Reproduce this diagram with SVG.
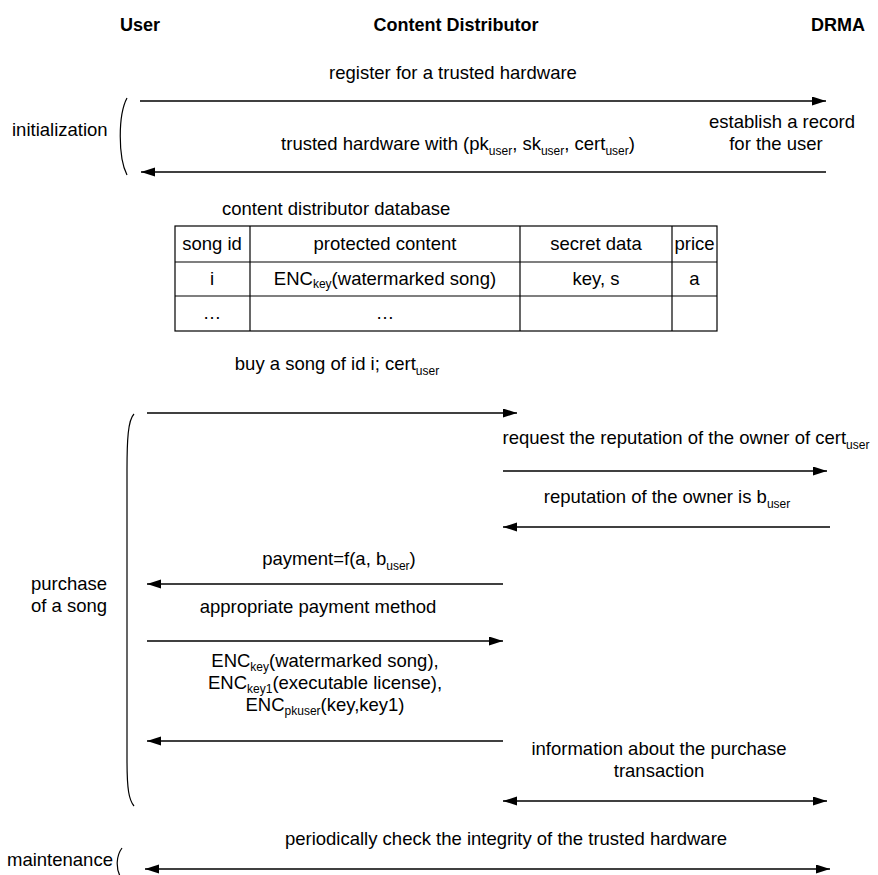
<svg xmlns="http://www.w3.org/2000/svg" width="878" height="875" viewBox="0 0 878 875">
  <style>
    text { font-family: "Liberation Sans", Arial, sans-serif; font-size: 18.5px; fill: #000; }
    .head { font-weight: bold; font-size: 18px; text-anchor: middle; }
    .mid { text-anchor: middle; }
    .sub { font-size: 12px; }
    .msg { stroke: #000; stroke-width: 1.4; fill: none; }
    .brace { stroke: #000; stroke-width: 1.2; fill: none; }
    .grid { stroke: #000; stroke-width: 1.2; fill: none; }
  </style>
  <defs>
    <marker id="head" markerUnits="userSpaceOnUse" markerWidth="15" markerHeight="10" refX="14" refY="4.5" orient="auto-start-reverse">
      <path d="M0,0 L14,4.5 L0,9 z" fill="#000"/>
    </marker>
  </defs>
  <rect width="878" height="875" fill="#fff"/>

  <!-- participants -->
  <g id="participants">
    <text class="head" x="140" y="31">User</text>
    <text class="head" x="456" y="31">Content Distributor</text>
    <text class="head" x="838" y="31">DRMA</text>
  </g>

  <!-- phase labels with braces -->
  <g id="phase-init">
    <text x="12" y="136">initialization</text>
    <path class="brace" d="M127,98 C118,115 118,157 127,175"/>
  </g>
  <g id="phase-purchase">
    <text class="mid" x="69" y="590">purchase</text>
    <text class="mid" x="69" y="612">of a song</text>
    <path class="brace" d="M134,414 C128,420 127,440 127,470 L127,760 C127,790 129,800 134,806"/>
  </g>
  <g id="phase-maintenance">
    <text x="7" y="866">maintenance</text>
    <path class="brace" d="M122,848 C116,856 116,868 120,876"/>
  </g>

  <!-- content distributor database -->
  <g id="database">
    <text x="222" y="215">content distributor database</text>
    <rect class="grid" x="175" y="226" width="542" height="105"/>
    <line class="grid" x1="175" y1="262" x2="717" y2="262"/>
    <line class="grid" x1="175" y1="296" x2="717" y2="296"/>
    <line class="grid" x1="250" y1="226" x2="250" y2="331"/>
    <line class="grid" x1="520" y1="226" x2="520" y2="331"/>
    <line class="grid" x1="672" y1="226" x2="672" y2="331"/>
    <text class="mid" x="212" y="250">song id</text>
    <text class="mid" x="385" y="250">protected content</text>
    <text class="mid" x="596" y="250">secret data</text>
    <text class="mid" x="694.5" y="250">price</text>
    <text class="mid" x="212" y="285">i</text>
    <text class="mid" x="385" y="285">ENC<tspan class="sub" dy="3">key</tspan><tspan dy="-3">(watermarked song)</tspan></text>
    <text class="mid" x="596" y="285">key, s</text>
    <text class="mid" x="694.5" y="285">a</text>
    <text class="mid" x="212" y="319">…</text>
    <text class="mid" x="385" y="319">…</text>
  </g>

  <!-- messages -->
  <g id="connectors">
    <line class="msg" x1="140" y1="101" x2="826" y2="101" marker-end="url(#head)"/>
    <line class="msg" x1="826" y1="172" x2="141" y2="172" marker-end="url(#head)"/>
    <line class="msg" x1="147" y1="413" x2="517" y2="413" marker-end="url(#head)"/>
    <line class="msg" x1="503" y1="471" x2="827" y2="471" marker-end="url(#head)"/>
    <line class="msg" x1="830" y1="527" x2="503" y2="527" marker-end="url(#head)"/>
    <line class="msg" x1="503" y1="584" x2="147" y2="584" marker-end="url(#head)"/>
    <line class="msg" x1="147" y1="641" x2="503" y2="641" marker-end="url(#head)"/>
    <line class="msg" x1="503" y1="741" x2="147" y2="741" marker-end="url(#head)"/>
    <line class="msg" x1="503" y1="801" x2="827" y2="801" marker-start="url(#head)" marker-end="url(#head)"/>
    <line class="msg" x1="145" y1="869" x2="830" y2="869" marker-start="url(#head)" marker-end="url(#head)"/>
  </g>

  <!-- message labels -->
  <g id="labels">
    <text class="mid" x="453" y="79">register for a trusted hardware</text>
    <text class="mid" x="458" y="150">trusted hardware with (pk<tspan class="sub" dy="5">user</tspan><tspan dy="-5">, sk</tspan><tspan class="sub" dy="5">user</tspan><tspan dy="-5">, cert</tspan><tspan class="sub" dy="5">user</tspan><tspan dy="-5">)</tspan></text>
    <text class="mid" x="782" y="128">establish a record</text>
    <text class="mid" x="776" y="150">for the user</text>
    <text class="mid" x="337" y="370">buy a song of id i; cert<tspan class="sub" dy="5">user</tspan></text>
    <text class="mid" x="686" y="444">request the reputation of the owner of cert<tspan class="sub" dy="5">user</tspan></text>
    <text class="mid" x="667" y="503">reputation of the owner is b<tspan class="sub" dy="5">user</tspan></text>
    <text class="mid" x="339" y="565">payment=f(a, b<tspan class="sub" dy="5">user</tspan><tspan dy="-5">)</tspan></text>
    <text class="mid" x="318" y="613">appropriate payment method</text>
    <text class="mid" x="325" y="667">ENC<tspan class="sub" dy="4">key</tspan><tspan dy="-4">(watermarked song),</tspan></text>
    <text class="mid" x="325" y="689">ENC<tspan class="sub" dy="4">key1</tspan><tspan dy="-4">(executable license),</tspan></text>
    <text class="mid" x="325" y="711">ENC<tspan class="sub" dy="4">pkuser</tspan><tspan dy="-4">(key,key1)</tspan></text>
    <text class="mid" x="659" y="755">information about the purchase</text>
    <text class="mid" x="659" y="777">transaction</text>
    <text class="mid" x="506" y="845">periodically check the integrity of the trusted hardware</text>
  </g>
</svg>
